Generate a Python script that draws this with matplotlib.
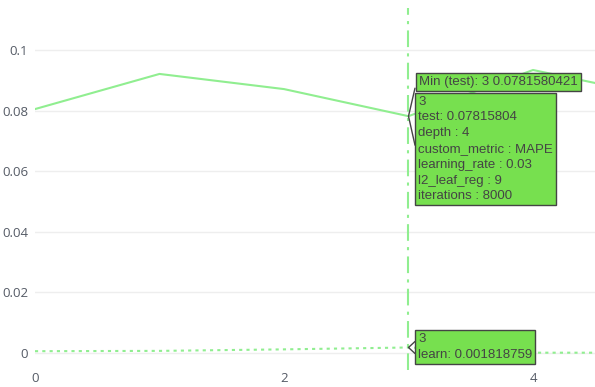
import matplotlib.pyplot as plt

trials = [0, 1, 2, 3, 4, 5]
test = [0.0805, 0.0921, 0.0871, 0.0781580421, 0.0934, 0.0848]
learn = [0.0006, 0.0007, 0.0012, 0.001818759, 0.0001, 0.0001]
best = 3
params = {'depth': 4, 'custom_metric': 'MAPE', 'learning_rate': 0.03,
          'l2_leaf_reg': 9, 'iterations': 8000}
xticks = [0, 2, 4]
yticks = [0, 0.02, 0.04, 0.06, 0.08, 0.1]
ytick_labels = ['0', '0.02', '0.04', '0.06', '0.08', '0.1']

green = '#90ee90'
box_fill = '#77e04f'
dark = '#444444'

fig = plt.figure(figsize=(5.95, 3.87), dpi=100)
ax = fig.add_axes([35 / 595, 17 / 387, 1 - 35 / 595, 362 / 387])

ax.plot(trials, test, color=green, linewidth=1.5, zorder=3)
ax.plot(trials, learn, color=green, linewidth=1.5, linestyle=(0, (1.5, 2)), zorder=3)
ax.axvline(best, color=green, linewidth=1.5, linestyle=(0, (8, 3, 1.5, 3)), zorder=2)

ax.set_xlim(0, 4.498)
ax.set_ylim(-0.00561, 0.11386)
ax.set_xticks(xticks)
ax.set_xticklabels([str(t) for t in xticks])
ax.set_yticks(yticks)
ax.set_yticklabels(ytick_labels)
ax.tick_params(length=0, labelsize=9.5, labelcolor='#555b66')
ax.tick_params(axis='x', pad=1.5)
ax.tick_params(axis='y', pad=5)
for lab in ax.get_xticklabels() + ax.get_yticklabels():
    lab.set_family('Open Sans')
ax.yaxis.grid(True, color='#eeeeee', linewidth=1)
ax.set_axisbelow(True)
for s in ax.spines.values():
    s.set_visible(False)

font = dict(family='Liberation Sans', size=9.5, color=dark)
box = dict(boxstyle='square,pad=0.22', facecolor=box_fill, edgecolor=dark, linewidth=1)

# hover label for test
lines = [str(best), f'test: {test[best]:.8f}'] + [f'{k} : {v}' for k, v in params.items()]
ax.annotate('\n'.join(lines), xy=(best, test[best]), xytext=(9.5, 20.5),
            textcoords='offset pixels', ha='left', va='top', bbox=box,
            linespacing=1.42, zorder=6, **font)
for dy in (28, -29):
    ax.annotate('', xy=(best, test[best]), xytext=(6.5, dy), textcoords='offset pixels',
                arrowprops=dict(arrowstyle='-', color=dark, lw=1, shrinkA=0, shrinkB=0),
                zorder=7)

# min annotation
ax.annotate(f'Min (test): {best} {test[best]:.10f}', xy=(best, test[best]),
            xytext=(10.5, 28), textcoords='offset pixels', ha='left', va='bottom',
            bbox=box, zorder=6, **font)

# hover label for learn
ax.annotate(f'{best}\nlearn: {learn[best]:.9f}', xy=(best, learn[best]), xytext=(9.5, 14.5),
            textcoords='offset pixels', ha='left', va='top', bbox=box,
            linespacing=1.42, zorder=6, **font)
for dy in (6, -6):
    ax.annotate('', xy=(best, learn[best]), xytext=(6.5, dy), textcoords='offset pixels',
                arrowprops=dict(arrowstyle='-', color=dark, lw=1, shrinkA=0, shrinkB=0),
                zorder=7)

fig.savefig('out.png', dpi=100)
